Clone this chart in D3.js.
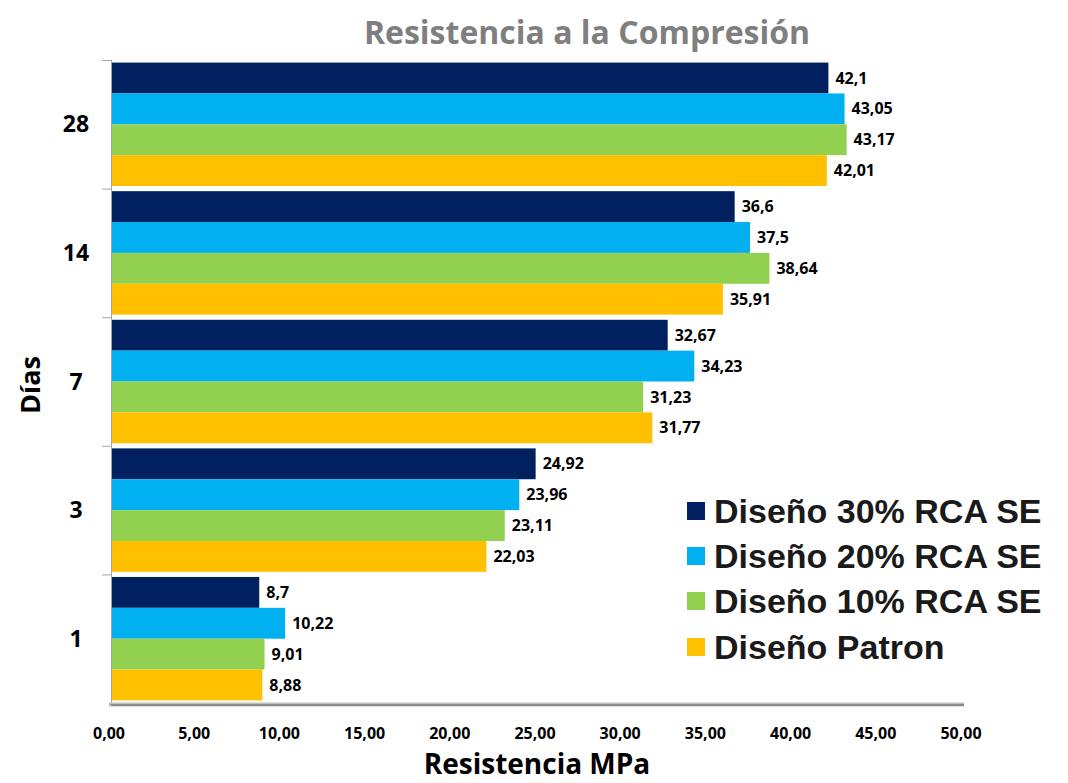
<!DOCTYPE html>
<html><head><meta charset="utf-8">
<script src="https://cdn.jsdelivr.net/npm/d3@7"></script>
<style>
body{margin:0;background:#fff;}
svg{display:block;}
</style></head>
<body>
<script>
const categories = ["28","14","7","3","1"];
const seriesNames = ["Diseño 30% RCA SE","Diseño 20% RCA SE","Diseño 10% RCA SE","Diseño Patron"];
const s30 = [42.1, 36.6, 32.67, 24.92, 8.7];
const s20 = [43.05, 37.5, 34.23, 23.96, 10.22];
const s10 = [43.17, 38.64, 31.23, 23.11, 9.01];
const sPatron = [42.01, 35.91, 31.77, 22.03, 8.88];
const xTicks = [0,5,10,15,20,25,30,35,40,45,50];
const colors = ["#002060","#00B0F0","#92D050","#FFC000"];

const seriesVals = [s30, s20, s10, sPatron];
const W = 1068, H = 783;
const m = {left:111, right:W-963, top:60, bottom:H-703};
const font = "'Open Sans',sans-serif";

const svg = d3.select("body").append("svg").attr("width",W).attr("height",H);

const x = d3.scaleLinear().domain([0,50]).range([m.left, W-m.right]);
const y0 = d3.scaleBand().domain(categories).range([m.top, H-m.bottom]).paddingInner(0.04).paddingOuter(0.02);
const y1 = d3.scaleBand().domain(d3.range(4)).range([0, y0.bandwidth()]);

const fmt = v => String(v).replace(".", ",");

// bars
categories.forEach((c, ci) => {
  const g = svg.append("g").attr("transform", `translate(0,${y0(c)})`);
  seriesVals.forEach((vals, si) => {
    g.append("rect")
      .attr("x", x(0)).attr("y", y1(si))
      .attr("width", x(vals[ci]) - x(0)).attr("height", y1.bandwidth())
      .attr("fill", colors[si]);
    g.append("text")
      .attr("x", x(vals[ci]) + 7).attr("y", y1(si) + y1.bandwidth()/2)
      .attr("dy","0.35em")
      .attr("font-family", font).attr("font-weight","bold").attr("font-size",16)
      .attr("fill","#000")
      .text(fmt(vals[ci]));
  });
});

// y axis line + ticks at band boundaries
const yAxisG = svg.append("g");
yAxisG.append("line").attr("x1",x(0)+0.5).attr("x2",x(0)+0.5).attr("y1",m.top).attr("y2",H-m.bottom)
  .attr("stroke","#a6a6a6").attr("stroke-width",1);
d3.range(categories.length).forEach(i => {
  const yy = m.top + i*( (H-m.bottom-m.top)/categories.length );
  yAxisG.append("line").attr("x1",x(0)-9).attr("x2",x(0)).attr("y1",yy+0.5).attr("y2",yy+0.5)
    .attr("stroke","#a6a6a6").attr("stroke-width",1);
});
categories.forEach(c => {
  svg.append("text")
    .attr("x", 76).attr("y", y0(c) + y0.bandwidth()/2).attr("dy","0.35em")
    .attr("text-anchor","middle")
    .attr("font-family", font).attr("font-weight","bold").attr("font-size",23)
    .text(c);
});

// x axis
svg.append("line").attr("x1",x(0)-2).attr("x2",x(50)+1).attr("y1",H-m.bottom+1.5).attr("y2",H-m.bottom+1.5)
  .attr("stroke","#bfbfbf").attr("stroke-width",4);
svg.append("line").attr("x1",x(0)).attr("x2",x(50)+1).attr("y1",H-m.bottom+2).attr("y2",H-m.bottom+2)
  .attr("stroke","#8c8c8c").attr("stroke-width",2);
xTicks.forEach(t => {
  svg.append("text")
    .attr("x", x(t) - 2).attr("y", 733).attr("dy","0.35em")
    .attr("text-anchor","middle")
    .attr("font-family", font).attr("font-weight","bold").attr("font-size",16)
    .text(t.toFixed(2).replace(".", ","));
});

// axis titles
svg.append("text").attr("x", (x(0)+x(50))/2).attr("y", 764).attr("dy","0.35em")
  .attr("text-anchor","middle").attr("font-family",font).attr("font-weight","bold").attr("font-size",28)
  .text("Resistencia MPa");
svg.append("text").attr("transform","translate(31,385) rotate(-90)").attr("dy","0.35em")
  .attr("text-anchor","middle").attr("font-family",font).attr("font-weight","bold").attr("font-size",27)
  .text("Días");

// title
svg.append("text").attr("x", 587).attr("y", 33).attr("dy","0.35em")
  .attr("text-anchor","middle").attr("font-family",font).attr("font-weight","bold").attr("font-size",32)
  .attr("fill","#7f7f7f")
  .text("Resistencia a la Compresión");

// legend
const legY = [511, 556, 601, 647];
seriesNames.forEach((n, i) => {
  svg.append("rect").attr("x",687).attr("y",legY[i]-9).attr("width",18).attr("height",18).attr("fill",colors[i]);
  svg.append("text").attr("x",714).attr("y",legY[i]).attr("dy","0.35em")
    .attr("font-family","'Liberation Sans',Arial,sans-serif").attr("font-weight","bold").attr("font-size",34)
    .attr("fill","#1a1a1a")
    .text(n);
});
</script>
</body></html>
